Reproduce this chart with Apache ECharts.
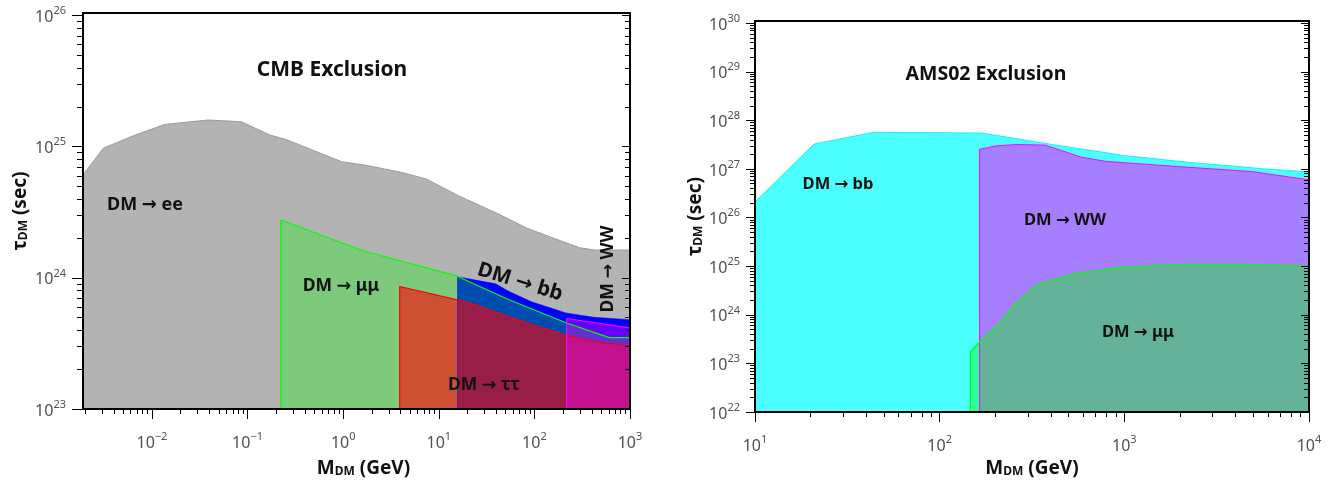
<!DOCTYPE html>
<html><head><meta charset="utf-8">
<script src="https://cdn.jsdelivr.net/npm/echarts@6/dist/echarts.min.js"></script>
<style>html,body{margin:0;padding:0;background:#fff}#c{width:1343px;height:483px}</style>
</head><body><div id="c"></div><script>
// ---------- Data: CMB exclusion (left panel) ----------
const cmbEeX   = [0.0019, 0.0031, 0.0067, 0.0136, 0.039, 0.086, 0.171, 0.257, 0.96, 1.77, 3.97, 7.3, 16.4, 41, 83, 170, 296, 423, 1000];
const cmbEeY   = [6.1e24, 9.75e24, 1.23e25, 1.48e25, 1.6e25, 1.55e25, 1.23e25, 1.13e25, 7.7e24, 7.2e24, 6.4e24, 5.7e24, 4.2e24, 3.1e24, 2.4e24, 1.97e24, 1.7e24, 1.63e24, 1.63e24];
const cmbBbX   = [15.7, 39.5, 52, 92, 214, 423, 1000];
const cmbBbY   = [1.02e24, 9.0e23, 8.0e23, 6.6e23, 5.4e23, 5.0e23, 4.8e23];
const cmbMuX   = [0.223, 1.6, 15.6, 52, 214, 607, 1000];
const cmbMuY   = [2.76e24, 1.61e24, 1.03e24, 6.9e23, 4.55e23, 3.5e23, 3.5e23];
const cmbTauX  = [3.9, 15.7, 20, 44.6, 99.6, 214, 497, 1000];
const cmbTauY  = [8.6e23, 6.8e23, 6.5e23, 5.3e23, 4.35e23, 3.65e23, 3.2e23, 3.03e23];
const cmbWwX   = [217, 1000];
const cmbWwY   = [4.9e23, 4.15e23];
const cmbFloor = 1e23;

// ---------- Data: AMS02 exclusion (right panel) ----------
const amsBbX   = [10, 20.9, 44, 169, 384, 993, 2193, 5680, 10000];
const amsBbY   = [2.1e26, 3.27e27, 5.7e27, 5.5e27, 3.3e27, 1.9e27, 1.38e27, 1.01e27, 8.7e26];
const amsWwX   = [164.5, 203, 265, 373, 585, 803, 2193, 4842, 10000];
const amsWwY   = [2.55e27, 3.0e27, 3.2e27, 3.1e27, 1.75e27, 1.43e27, 1.09e27, 8.9e26, 6.0e26];
const amsMuX   = [146.6, 164, 209, 251, 336, 526, 942, 2193, 4842, 10000];
const amsMuY   = [1.74e23, 2.7e23, 6.4e23, 1.5e24, 4.1e24, 6.9e24, 9.5e24, 1.1e25, 1.07e25, 9.9e24];
const amsFloor = 1e22;

// ---------- Tick labels ----------
const cmbXTicks = [0.01, 0.1, 1, 10, 100, 1000];
const cmbYTicks = [1e23, 1e24, 1e25, 1e26];
const amsXTicks = [10, 100, 1000, 10000];
const amsYTicks = [1e22, 1e23, 1e24, 1e25, 1e26, 1e27, 1e28, 1e29, 1e30];

// ---------- helpers ----------
const FONT = '"Noto Sans", "DejaVu Sans", sans-serif';
function minorTicks(lo, hi) {
  const out = [];
  for (let e = Math.floor(Math.log10(lo)) - 1; e <= Math.ceil(Math.log10(hi)); e++) {
    for (let k = 2; k <= 9; k++) {
      const v = Number((k * Math.pow(10, e)).toPrecision(6));
      if (v >= lo && v <= hi) out.push(v);
    }
  }
  return out;
}
function expLabel(v) {
  const e = Math.round(Math.log10(v));
  return '{b|10}{s|' + (e < 0 ? '\u2212' + (-e) : e) + '}';
}
const labelRich = {
  b: { fontSize: 16, color: '#505050', fontFamily: FONT, lineHeight: 20, verticalAlign: 'bottom' },
  s: { fontSize: 11, color: '#505050', fontFamily: FONT, lineHeight: 12, verticalAlign: 'top' }
};
function nameStyle(shift) {
  return {
    fontFamily: FONT,
    padding: shift ? [0, 0, 0, shift] : 0,
    rich: {
      a: { fontSize: 19, fontWeight: 'bold', color: '#111', fontFamily: FONT, lineHeight: 24, verticalAlign: 'bottom' },
      sub: { fontSize: 12, fontWeight: 'bold', color: '#111', fontFamily: FONT, lineHeight: 13, verticalAlign: 'bottom' }
    }
  };
}
function axis(o) {
  return {
    type: 'log', logBase: 10, gridIndex: o.grid, position: o.pos, min: o.min, max: o.max,
    z: 5, silent: true,
    splitLine: { show: false }, minorTick: { show: false }, minorSplitLine: { show: false },
    axisLine: { show: !!o.line, onZero: false, lineStyle: { color: '#000', width: 2 } },
    axisTick: o.ticks ? { show: true, customValues: o.ticks, length: o.len, inside: !!o.inside,
      lineStyle: { color: '#000', width: 1 } } : { show: false },
    axisLabel: o.labels ? { show: true, customValues: o.labels, formatter: expLabel, rich: labelRich,
      margin: o.margin, fontFamily: FONT } : { show: false },
    name: o.name || '', nameLocation: 'middle', nameGap: o.nameGap || 0, nameRotate: o.nameRotate,
    nameTextStyle: nameStyle(o.shift)
  };
}
function closedShape(xs, ys, floor) {
  const pts = [[xs[0], floor]];
  for (let i = 0; i < xs.length; i++) pts.push([xs[i], ys[i]]);
  pts.push([xs[xs.length - 1], floor]);
  pts.push([xs[0], floor]);
  return pts;
}
function areaSeries(name, xi, yi, xs, ys, floor, fill, line, lw) {
  return {
    type: 'line', name, xAxisIndex: xi, yAxisIndex: yi, data: closedShape(xs, ys, floor),
    symbol: 'none', showSymbol: false, silent: true, animation: false, smooth: false,
    lineStyle: { color: line, width: lw },
    areaStyle: { color: fill, opacity: 1, origin: 'start' }
  };
}

const L = { xmin: 0.0019, xmax: 1000, ymin: 1e23, ymax: Math.pow(10, 26.02) };
const R = { xmin: 10, xmax: 10000, ymin: 1e22, ymax: Math.pow(10, 30.045) };

const option = {
  animation: false,
  backgroundColor: '#fff',
  grid: [
    { left: 83, right: 713, top: 13, bottom: 71, show: false },
    { left: 755, right: 34, top: 21, bottom: 68, show: false }
  ],
  xAxis: [
    axis({ grid: 0, pos: 'bottom', min: L.xmin, max: L.xmax, line: true, ticks: cmbXTicks, len: 10, labels: cmbXTicks, margin: 22,
           name: '{a|M}{sub|DM}{a| (GeV)}', nameGap: 45, shift: 14 }),
    axis({ grid: 0, pos: 'bottom', min: L.xmin, max: L.xmax, ticks: minorTicks(L.xmin, L.xmax), len: 5 }),
    axis({ grid: 0, pos: 'top', min: L.xmin, max: L.xmax, line: true }),
    axis({ grid: 1, pos: 'bottom', min: R.xmin, max: R.xmax, line: true, ticks: amsXTicks, len: 10, labels: amsXTicks, margin: 22,
           name: '{a|M}{sub|DM}{a| (GeV)}', nameGap: 41 }),
    axis({ grid: 1, pos: 'bottom', min: R.xmin, max: R.xmax, ticks: minorTicks(R.xmin, R.xmax), len: 5 }),
    axis({ grid: 1, pos: 'top', min: R.xmin, max: R.xmax, line: true })
  ],
  yAxis: [
    axis({ grid: 0, pos: 'left', min: L.ymin, max: L.ymax, line: true, ticks: cmbYTicks, len: 11, labels: cmbYTicks, margin: 17,
           name: '{a|\u03c4}{sub|DM}{a| (sec)}', nameGap: 53, nameRotate: 90 }),
    axis({ grid: 0, pos: 'left', min: L.ymin, max: L.ymax, ticks: minorTicks(L.ymin, L.ymax), len: 6 }),
    axis({ grid: 0, pos: 'right', min: L.ymin, max: L.ymax, line: true, ticks: cmbYTicks, len: 8, inside: true }),
    axis({ grid: 0, pos: 'right', min: L.ymin, max: L.ymax, ticks: minorTicks(L.ymin, L.ymax), len: 5, inside: true }),
    axis({ grid: 1, pos: 'left', min: R.ymin, max: R.ymax, line: true, ticks: amsYTicks, len: 9, labels: amsYTicks, margin: 15,
           name: '{a|\u03c4}{sub|DM}{a| (sec)}', nameGap: 50, nameRotate: 90 }),
    axis({ grid: 1, pos: 'left', min: R.ymin, max: R.ymax, ticks: minorTicks(R.ymin, R.ymax), len: 5 }),
    axis({ grid: 1, pos: 'right', min: R.ymin, max: R.ymax, line: true, ticks: amsYTicks, len: 8, inside: true }),
    axis({ grid: 1, pos: 'right', min: R.ymin, max: R.ymax, ticks: minorTicks(R.ymin, R.ymax), len: 5, inside: true })
  ],
  series: [
    areaSeries('CMB ee', 0, 0, cmbEeX, cmbEeY, cmbFloor, '#b3b3b3', '#9a9a9a', 1),
    areaSeries('CMB bb', 0, 0, cmbBbX, cmbBbY, cmbFloor, '#0000ff', '#0000ff', 0.5),
    areaSeries('CMB mumu', 0, 0, cmbMuX, cmbMuY, cmbFloor, 'rgba(0,255,0,0.3)', '#00ff00', 1.2),
    areaSeries('CMB tautau', 0, 0, cmbTauX, cmbTauY, cmbFloor, 'rgba(255,0,0,0.6)', '#ff0000', 1.2),
    areaSeries('CMB WW', 0, 0, cmbWwX, cmbWwY, cmbFloor, 'rgba(255,0,255,0.4)', '#ff00ff', 1.2),
    areaSeries('AMS bb', 3, 4, amsBbX, amsBbY, amsFloor, 'rgba(0,255,255,0.7)', '#22eeee', 1),
    areaSeries('AMS WW', 3, 4, amsWwX, amsWwY, amsFloor, 'rgba(255,0,255,0.5)', '#ff00ff', 1),
    areaSeries('AMS mumu', 3, 4, amsMuX, amsMuY, amsFloor, 'rgba(0,255,0,0.4)', '#00ff00', 1.2)
  ],
  graphic: [
    { type: 'text', x: 332, y: 70, z: 100, style: { text: 'CMB Exclusion', font: 'bold 21px ' + FONT, fill: '#111', align: 'center', verticalAlign: 'middle' } },
    { type: 'text', x: 145, y: 205, z: 100, style: { text: 'DM \u2192 ee', font: 'bold 18px ' + FONT, fill: '#111', align: 'center', verticalAlign: 'middle' } },
    { type: 'text', x: 341, y: 286, z: 100, style: { text: 'DM \u2192 \u03bc\u03bc', font: 'bold 17.5px ' + FONT, fill: '#111', align: 'center', verticalAlign: 'middle' } },
    { type: 'text', x: 484, y: 385, z: 100, style: { text: 'DM \u2192 \u03c4\u03c4', font: 'bold 17.5px ' + FONT, fill: '#111', align: 'center', verticalAlign: 'middle' } },
    { type: 'text', x: 520, y: 282, z: 100, rotation: -17 * Math.PI / 180, style: { text: 'DM \u2192 bb', font: 'bold 20.5px ' + FONT, fill: '#111', align: 'center', verticalAlign: 'middle' } },
    { type: 'text', x: 608, y: 269, z: 100, rotation: Math.PI / 2, style: { text: 'DM \u2192 WW', font: 'bold 17.5px ' + FONT, fill: '#111', align: 'center', verticalAlign: 'middle' } },
    { type: 'text', x: 986, y: 74, z: 100, style: { text: 'AMS02 Exclusion', font: 'bold 19.5px ' + FONT, fill: '#111', align: 'center', verticalAlign: 'middle' } },
    { type: 'text', x: 838, y: 184, z: 100, style: { text: 'DM \u2192 bb', font: 'bold 16.5px ' + FONT, fill: '#111', align: 'center', verticalAlign: 'middle' } },
    { type: 'text', x: 1065, y: 220, z: 100, style: { text: 'DM \u2192 WW', font: 'bold 16.5px ' + FONT, fill: '#111', align: 'center', verticalAlign: 'middle' } },
    { type: 'text', x: 1138, y: 332, z: 100, style: { text: 'DM \u2192 \u03bc\u03bc', font: 'bold 16.5px ' + FONT, fill: '#111', align: 'center', verticalAlign: 'middle' } }
  ]
};
const chart = echarts.init(document.getElementById('c'), null, { renderer: 'canvas' });
chart.setOption(option);
</script></body></html>
